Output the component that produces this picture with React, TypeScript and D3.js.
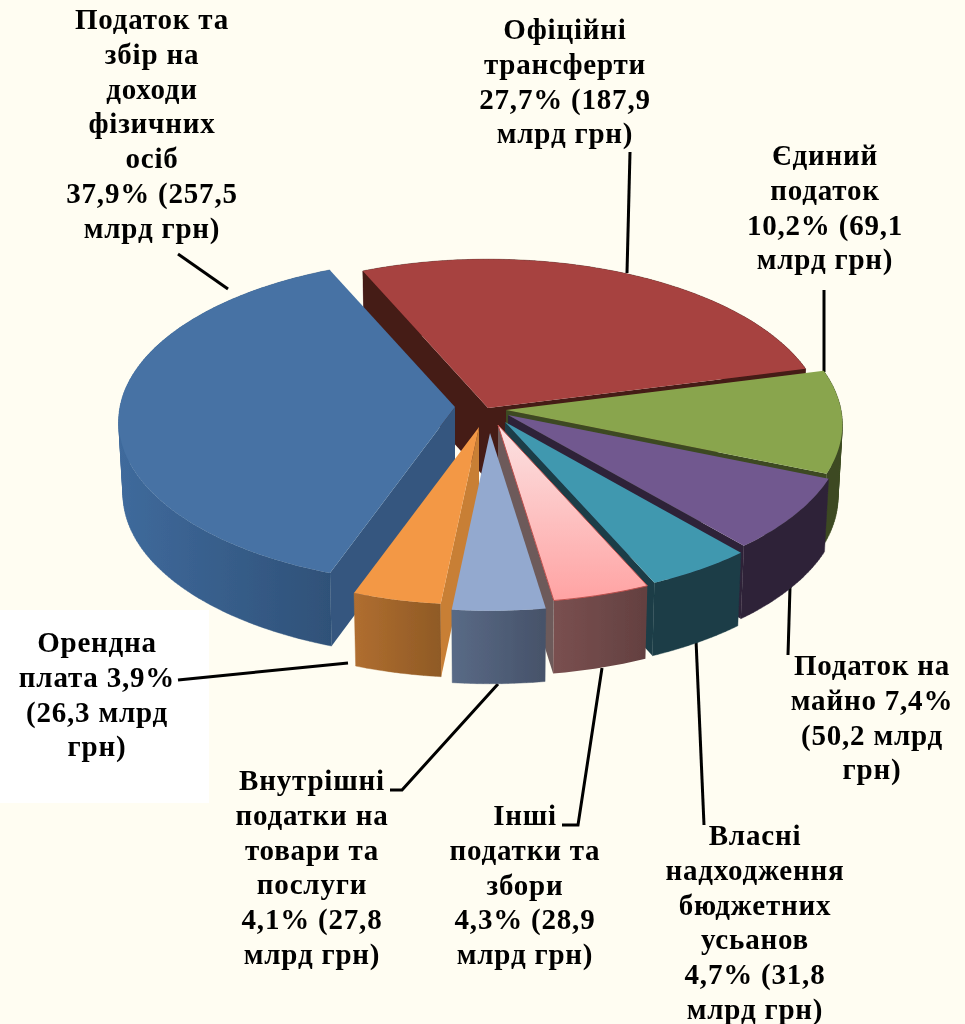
import React from "react";
import * as d3 from "d3";

// ---- data ----
const categories = [
  "Податок та збір на доходи фізичних осіб",
  "Офіційні трансферти",
  "Єдиний податок",
  "Податок на майно",
  "Власні надходження бюджетних усьанов",
  "Інші податки та збори",
  "Внутрішні податки на товари та послуги",
  "Орендна плата",
];
const shares = [37.9, 27.7, 10.2, 7.4, 4.7, 4.3, 4.1, 3.9];
const labelLines = [
  ["Податок та", "збір на", "доходи", "фізичних", "осіб", "37,9% (257,5", "млрд грн)"],
  ["Офіційні", "трансферти", "27,7% (187,9", "млрд грн)"],
  ["Єдиний", "податок", "10,2% (69,1", "млрд грн)"],
  ["Податок на", "майно 7,4%", "(50,2 млрд", "грн)"],
  ["Власні", "надходження", "бюджетних", "усьанов", "4,7% (31,8", "млрд грн)"],
  ["Інші", "податки та", "збори", "4,3% (28,9", "млрд грн)"],
  ["Внутрішні", "податки на", "товари та", "послуги", "4,1% (27,8", "млрд грн)"],
  ["Орендна", "плата 3,9%", "(26,3 млрд", "грн)"],
];

// ---- layout & style ----
const W = 965, H = 1024;
const BG = "#fffdf2";
const RX = 335, RY = 162, PERSP = 0.0887, DEPTH = 73, BOTTOM_X = 0.987;
const apex: [number, number][] = [
  [455, 407], [488, 408], [506, 410], [508, 415], [505, 422], [498, 425], [490, 433], [479, 427],
];
const topFill = ["#4672a4", "#a74240", "#89a54e", "#71588f", "#4198af", "url(#pinkTop)", "#93a9cf", "#f39845"];
const wallL = ["#3f6a9c", "#451a17", "#3c4a20", "#2e2339", "#1a3c46", "#7a5050", "#596a86", "#b06e30"];
const wallR = ["#2f5178", "#451a17", "#3c4a20", "#2e2339", "#1a3c46", "#634040", "#465269", "#8f5a25"];
const sideFill = ["#34577f", "#451a17", "#3c4a20", "#2e2339", "#1a3c46", "#6d5a5a", "#465269", "#c87f35"];
const paintOrder = [1, 2, 3, 4, 0, 7, 5, 6];
const labelAnchors: { x: number; y: number }[] = [
  { x: 152, y: 29 }, { x: 565, y: 39 }, { x: 825, y: 165 }, { x: 872, y: 675 },
  { x: 755, y: 845 }, { x: 525, y: 825 }, { x: 312, y: 790 }, { x: 97, y: 652 },
];
const leaders: [number, number][][] = [
  [[178, 254], [228, 289]],
  [[630, 152], [627, 273]],
  [[824, 290], [824, 372]],
  [[790, 587], [788, 655]],
  [[696, 640], [704, 825]],
  [[602, 668], [578, 825], [562, 825]],
  [[498, 684], [402, 790], [390, 790]],
  [[178, 680], [348, 663]],
];

const project = (a: number, i: number, down = false): [number, number] => {
  const X = Math.sin(a), Y = -Math.cos(a);
  const s = 1 / (1 - PERSP * Y);
  const k = down ? BOTTOM_X : 1;
  return [apex[i][0] + RX * X * s * k, apex[i][1] + RY * Y * s + (down ? DEPTH : 0)];
};
const line = d3.line<[number, number]>().x((d) => d[0]).y((d) => d[1]);
const path = (pts: [number, number][]) => line(pts) + "Z";

const arcs = d3
  .pie<number>()
  .sort(null)
  .startAngle((200 * Math.PI) / 180)
  .endAngle((560 * Math.PI) / 180)(shares);

// The rim is swept down as one quad per segment, all wound the same way, so the
// silhouette closes at the left and right tangent points.
const sweep = (top: [number, number][], low: [number, number][]) =>
  d3
    .range(top.length - 1)
    .map((k) => {
      const quad: [number, number][] = [top[k], top[k + 1], low[k + 1], low[k]];
      return path(d3.polygonArea(quad) < 0 ? quad.slice().reverse() : quad);
    })
    .join("");

const slices = arcs.map((arc, i) => {
  const n = Math.max(8, Math.round((arc.endAngle - arc.startAngle) * 60));
  const ang = d3.range(n + 1).map((k) => arc.startAngle + ((arc.endAngle - arc.startAngle) * k) / n);
  const rim = ang.map((a) => project(a, i));
  const rimLow = ang.map((a) => project(a, i, true));
  const A = apex[i];
  const Al: [number, number] = [A[0], A[1] + DEPTH];
  const top = path([A, ...rim]);
  const outer = sweep(rim, rimLow);
  const first = rim[0], last = rim[rim.length - 1];
  const firstL = rimLow[0], lastL = rimLow[rimLow.length - 1];
  const walls: string[] = [];
  if (first[0] < A[0]) walls.push(path([A, first, firstL, Al]));
  if (last[0] > A[0]) walls.push(path([A, last, lastL, Al]));
  const xs = [...rim.map((p) => p[0]), ...rimLow.map((p) => p[0])];
  return { i, top, outer, walls, x0: d3.min(xs)!, x1: d3.max(xs)!, rim };
});

export default function App() {
  const pink = slices[5];
  const pinkYs = pink.rim.map((p) => p[1]);
  return (
    <svg
      width={W}
      height={H}
      viewBox={`0 0 ${W} ${H}`}
      style={{ position: "absolute", left: 0, top: 0, display: "block" }}
    >
      <defs>
        <filter id="soft" x="-2%" y="-2%" width="104%" height="104%">
          <feGaussianBlur stdDeviation="0.55" />
        </filter>
        <linearGradient id="pinkTop" gradientUnits="userSpaceOnUse" x1="0" x2="0" y1={apex[5][1]} y2={d3.max(pinkYs)!}>
          <stop offset="0" stopColor="#fbe2e2" />
          <stop offset="1" stopColor="#ffa3a3" />
        </linearGradient>
        {slices.map((s) => (
          <linearGradient key={s.i} id={`wall${s.i}`} gradientUnits="userSpaceOnUse" x1={s.x0} x2={s.x1} y1="0" y2="0">
            <stop offset="0" stopColor={wallL[s.i]} />
            <stop offset="1" stopColor={wallR[s.i]} />
          </linearGradient>
        ))}
      </defs>
      <rect width={W} height={H} fill={BG} />
      <g filter="url(#soft)">
        <rect x={0} y={610} width={209} height={193} fill="#ffffff" />
        {leaders.map((pts, i) => (
          <path key={i} d={d3.line()(pts)!} fill="none" stroke="#000" strokeWidth={3} />
        ))}
        {paintOrder.map((idx) => {
          const s = slices[idx];
          const edge = idx === 5 ? "#c0504d" : "none";
          return (
            <g key={idx}>
              <path d={s.outer} fill={`url(#wall${idx})`} stroke={idx === 5 ? "none" : `url(#wall${idx})`} strokeWidth={0.4} />
              {s.walls.map((d, k) => (
                <path key={k} d={d} fill={sideFill[idx]} />
              ))}
              <path d={s.top} fill={topFill[idx]} stroke={edge} strokeWidth={1} />
            </g>
          );
        })}
        <g fontFamily="'Liberation Serif', serif" fontWeight={700} fontSize={29} fill="#000" textAnchor="middle" letterSpacing={0.8}>
          {labelLines.map((lines, i) => (
            <text key={categories[i]} x={labelAnchors[i].x} y={labelAnchors[i].y}>
              {lines.map((t, k) => (
                <tspan key={k} x={labelAnchors[i].x} y={labelAnchors[i].y + k * 34.8}>
                  {t}
                </tspan>
              ))}
            </text>
          ))}
        </g>
      </g>
    </svg>
  );
}
